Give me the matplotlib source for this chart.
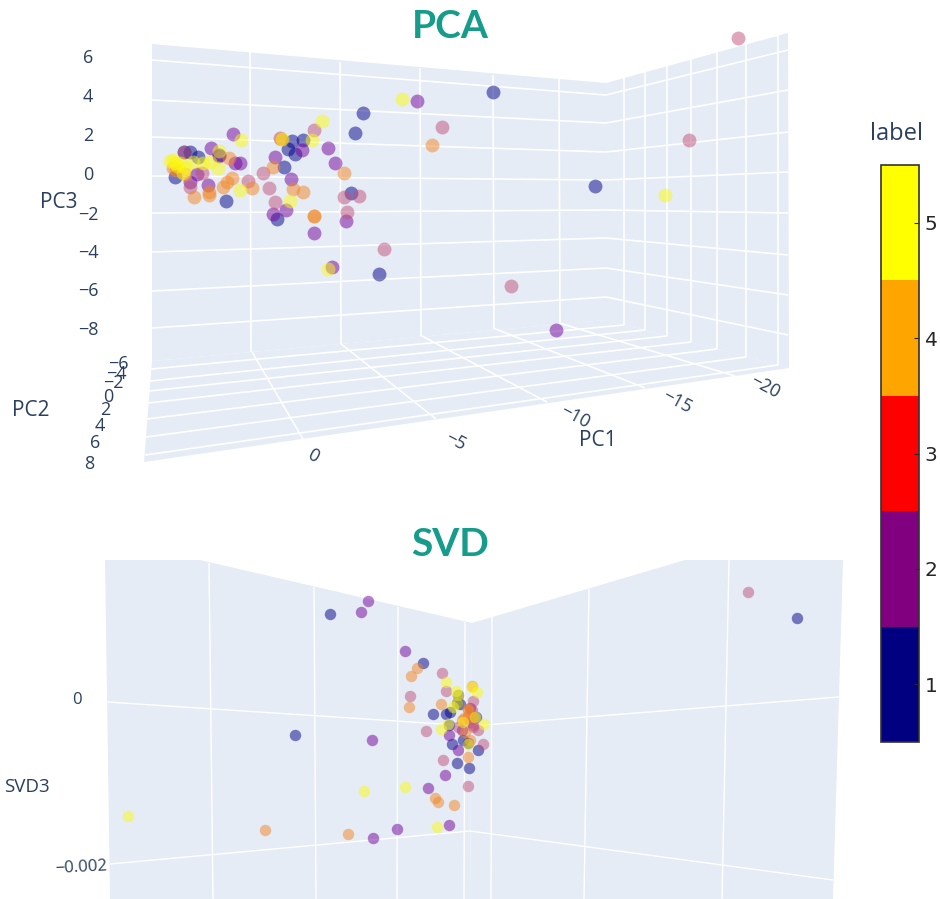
import matplotlib
matplotlib.use('Agg')
import matplotlib.pyplot as plt
from matplotlib.cm import ScalarMappable
from matplotlib.colors import BoundaryNorm, ListedColormap

pca_x_1 = [363, 355, 292, 303, 288, 295, 284, 351, 277, 226, 175, 184, 190, 198, 493, 379, 595, 219]
pca_y_1 = [113, 133, 141, 140, 149, 154, 167, 193, 219, 201, 177, 152, 152, 157, 92, 274, 186, 155]
pca_x_2 = [233, 211, 219, 240, 235, 197, 190, 208, 275, 302, 328, 335, 291, 286, 273, 346, 314, 417, 332, 556]
pca_y_2 = [134, 148, 156, 163, 163, 174, 182, 185, 157, 150, 148, 163, 179, 210, 214, 221, 233, 101, 267, 330]
pca_x_3 = [280, 314, 263, 248, 269, 275, 344, 359, 347, 384, 190, 184, 202, 442, 738, 689, 511]
pca_y_3 = [138, 130, 173, 181, 188, 202, 197, 196, 212, 249, 187, 152, 173, 127, 38, 140, 286]
pca_x_4 = [229, 273, 344, 232, 227, 223, 252, 194, 209, 209, 293, 303, 314, 314, 432, 281, 173, 176, 185]
pca_y_4 = [158, 167, 173, 178, 182, 187, 188, 197, 195, 192, 189, 192, 216, 216, 145, 139, 168, 170, 174]
pca_x_5 = [322, 312, 241, 219, 218, 240, 290, 170, 175, 180, 185, 183, 193, 203, 210, 402, 665, 328, 282, 173, 177]
pca_y_5 = [121, 140, 140, 151, 168, 190, 201, 161, 163, 163, 167, 173, 162, 163, 162, 99, 195, 269, 139, 160, 166]

svd_x_1 = [330, 797, 423, 433, 295, 457, 469, 452, 478, 463, 446, 460, 458, 457, 450, 449, 468, 476]
svd_y_1 = [614, 618, 663, 714, 735, 763, 768, 744, 750, 740, 714, 704, 695, 703, 712, 725, 743, 717]
svd_x_2 = [368, 361, 405, 372, 449, 458, 445, 428, 449, 397, 373, 470, 462]
svd_y_2 = [601, 612, 651, 740, 735, 750, 775, 788, 825, 829, 838, 708, 730]
svd_x_3 = [748, 442, 446, 410, 473, 426, 443, 468, 483, 478, 473, 458, 472, 470, 473, 468]
svd_y_3 = [592, 673, 691, 696, 701, 731, 760, 786, 744, 730, 727, 727, 710, 722, 725, 716]
svd_x_4 = [417, 411, 409, 441, 468, 454, 438, 435, 348, 265, 472, 468, 470, 465, 462, 473, 468, 464]
svd_y_4 = [668, 676, 707, 704, 757, 805, 802, 798, 834, 830, 686, 710, 740, 732, 720, 717, 709, 718]
svd_x_5 = [128, 364, 405, 437, 446, 456, 477, 441, 484, 463, 475, 448, 453, 458, 468, 472, 457]
svd_y_5 = [816, 791, 787, 827, 682, 691, 692, 729, 724, 722, 717, 724, 707, 695, 744, 687, 703]

labels = [1, 2, 3, 4, 5]
bar_colors = ['#000080', '#800080', '#ff0000', '#ffa500', '#ffff00']
point_colors = ['#000086', '#73009a', '#c04f7a', '#f38622', '#fbf80e']

pca_ztick_labels = ['6', '4', '2', '0', '\u22122', '\u22124', '\u22126', '\u22128']
pca_ytick_labels = ['\u22126', '\u22124', '\u22122', '0', '2', '4', '6', '8']
pca_xtick_labels = ['0', '\u22125', '\u221210', '\u221215', '\u221220']
svd_ztick_labels = ['0', '\u22120.002']

PANE = '#e5ecf6'
INK = '#2a3f5f'
TEAL = '#159c8a'

fig = plt.figure(figsize=(9.4, 8.99), dpi=100)
ax = fig.add_axes([0, 0, 1, 1])
ax.set_xlim(0, 940)
ax.set_ylim(899, 0)
ax.axis('off')


def pane(corners):
    ax.fill([c[0] for c in corners], [c[1] for c in corners], color=PANE, lw=0, zorder=1)


def grid(x0, y0, x1, y1, lw=1.2):
    ax.plot([x0, x1], [y0, y1], color='white', lw=lw, zorder=2, solid_capstyle='butt')


def tick_text(x, y, s, size=13, rotation=0):
    ax.text(x, y, s, fontsize=size, color=INK, family='Open Sans', ha='center', va='center',
            rotation=rotation, rotation_mode='anchor')


# PCA scene
pane([(152, 44), (606, 83), (606, 320), (152, 361)])
pane([(606, 83), (788, 33), (789, 368), (606, 320)])
pane([(152, 361), (606, 320), (789, 368), (144, 462)])

for left, mid, right in zip([60, 100, 137, 176, 213, 252, 291, 328],
                            [95, 123, 152, 180, 210, 238, 268, 297],
                            [50, 90, 132, 172, 213, 255, 295, 335]):
    grid(152, left, 606, mid)
    grid(606, mid, 788, right)

for x, top, bottom in zip([250, 340, 420, 493, 559], [52, 62, 68, 75, 79], [352, 343, 335, 328, 323]):
    grid(x, top, x + 1, bottom)
for x, top, bottom in zip([624, 645, 667, 691, 717, 746, 778], [78, 72, 66, 59, 52, 44, 36], [325, 330, 336, 342, 349, 357, 365]):
    grid(x, top, x, bottom)

# floor lines
for left_x, left_y, right_x, right_y in zip([151, 150, 149, 148, 147, 146, 145],
                                            [369, 381, 391, 403, 419, 437, 455],
                                            [624, 645, 667, 691, 717, 746, 778],
                                            [325, 330, 336, 342, 349, 357, 365]):
    grid(left_x, left_y, right_x, right_y)
for back_x, back_y, front_x, front_y in zip([252, 340, 420, 493, 559],
                                            [352, 343, 335, 328, 323],
                                            [303, 436, 547, 645, 735],
                                            [439, 419, 402, 388, 376]):
    grid(back_x, back_y, front_x, front_y)

for s, y in zip(pca_ztick_labels, [58, 97, 136, 175, 215, 253, 291, 330]):
    tick_text(88, y, s)
for s, x, y in zip(pca_ytick_labels, [118, 116, 113, 108, 105, 100, 95, 89], [364, 374, 383, 397, 410, 426, 443, 464]):
    tick_text(x, y, s)
for s, x, y in zip(pca_xtick_labels, [313, 455, 575, 677, 765], [456, 441, 417, 402, 387]):
    tick_text(x, y, s, rotation=-28)
tick_text(59, 203, 'PC3', 15)
tick_text(31, 411, 'PC2', 15)
tick_text(598, 440, 'PC1', 15)

# SVD scene, cut off by the top and bottom of its box
pane([(105, 560), (200, 560), (472, 623), (470, 899), (110, 899)])
pane([(472, 623), (685, 560), (843, 560), (833, 899), (470, 899)])
for x0, y0, x1 in zip([209, 314, 398, 465], [563, 587, 607, 622], [213, 316, 397, 464]):
    grid(x0, y0, x1, 899, lw=1)
for x0, y0, x1 in zip([492, 589, 729], [617, 589, 560], [491, 584, 722]):
    grid(x0, y0, x1, 899, lw=1)
grid(107, 702, 472, 726, lw=1)
grid(472, 726, 839, 697, lw=1)
grid(110, 864, 470, 831, lw=1)
grid(470, 831, 833, 880, lw=1)

tick_text(77, 700, svd_ztick_labels[0], 12)
tick_text(81, 868, svd_ztick_labels[1], 12, rotation=3)
tick_text(27, 787, 'SVD3', 13.5)

# points, lowest label first so the yellow ones end up on top
pca_points = [(pca_x_1, pca_y_1), (pca_x_2, pca_y_2), (pca_x_3, pca_y_3), (pca_x_4, pca_y_4), (pca_x_5, pca_y_5)]
svd_points = [(svd_x_1, svd_y_1), (svd_x_2, svd_y_2), (svd_x_3, svd_y_3), (svd_x_4, svd_y_4), (svd_x_5, svd_y_5)]
for (x, y), c in zip(pca_points, point_colors):
    ax.scatter(x, y, s=100, color=c, alpha=0.5, linewidths=0, zorder=3)
for (x, y), c in zip(svd_points, point_colors):
    ax.scatter(x, y, s=68, color=c, alpha=0.5, linewidths=0, zorder=3)

ax.text(450, 26, 'PCA', fontsize=28, fontweight='bold', family='Lato', color=TEAL, ha='center', va='center')
ax.text(450, 544, 'SVD', fontsize=28, fontweight='bold', family='Lato', color=TEAL, ha='center', va='center')

# colorbar
cax = fig.add_axes([881 / 940, 1 - 742 / 899, 38 / 940, 577 / 899])
norm = BoundaryNorm([l - 0.5 for l in labels] + [labels[-1] + 0.5], len(labels))
cbar = fig.colorbar(ScalarMappable(norm=norm, cmap=ListedColormap(bar_colors)), cax=cax, ticks=labels)
cbar.ax.minorticks_off()
cbar.ax.tick_params(direction='in', length=3.5, width=0.8, labelsize=14.5, pad=4, colors='#262626')
cbar.outline.set_linewidth(1.2)
cbar.outline.set_edgecolor('#333333')
ax.text(896, 134, 'label', fontsize=17, family='Open Sans', color=INK, ha='center', va='center')

fig.savefig('out.png', dpi=100)
